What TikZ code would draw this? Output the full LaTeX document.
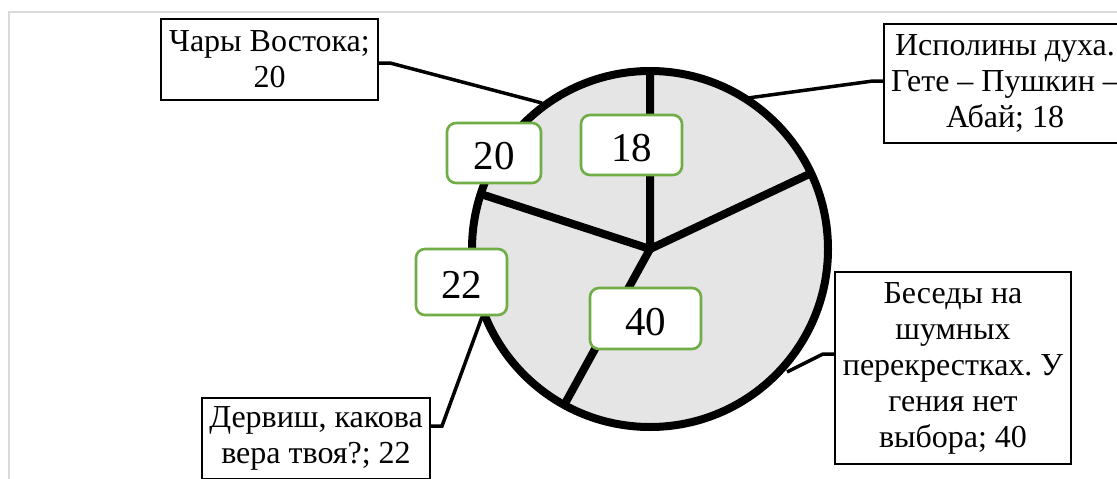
\documentclass[tikz,border=0pt]{standalone}
\usepackage{fontspec}
\setmainfont{Liberation Serif}
\usetikzlibrary{calc}
\definecolor{framegray}{HTML}{D9D9D9}
\definecolor{piegray}{HTML}{E5E5E5}
\definecolor{lblgreen}{HTML}{70AD47}
\frenchspacing
\begin{document}
\begin{tikzpicture}[x=1pt,y=-1pt,
 catbox/.style={draw=black,line width=1.8pt,fill=white,align=center,inner sep=0pt,font=\fontsize{32}{36}\selectfont},
 numbox/.style={draw=lblgreen,line width=2.6pt,fill=white,rounded corners=9pt,inner sep=0pt,text height=33pt,text depth=0pt,font=\fontsize{41}{44}\selectfont},
 leader/.style={line width=3.5pt,line join=miter},
 spoke/.style={line width=8pt},
 rim/.style={line width=8pt},
]
\useasboundingbox (0,0) rectangle (1117,479);
\clip (0,0) rectangle (1117,479);
\fill[white] (0,0) rectangle (1117,479);
\draw[framegray,line width=2pt] (9,12) rectangle (1140,500);

% category boxes
\node[catbox,minimum width=217pt,minimum height=81pt] (chary) at (269.5,59.5) {Чары Востока;\\20};
\node[catbox,minimum width=242pt,minimum height=119pt] (ispol) at (1005,83.5) {Исполины духа.\\Гете – Пушкин –\\Абай; 18};
\node[catbox,minimum width=236pt,minimum height=192pt] (besedy) at (953,368) {Беседы на\\шумных\\перекрестках. У\\гения нет\\выбора; 40};
\node[catbox,minimum width=228pt,minimum height=81pt] (dervish) at (316,438.5) {Дервиш, какова\\вера твоя?; 22};

% pie geometry
\coordinate (c) at (650,249);
\coordinate (s1) at (650,71);
\coordinate (s2) at (811.1,173.2);
\coordinate (s3) at (564.2,405);
\coordinate (s4) at (480.7,194);

% leader points
\coordinate (e1) at (542,103);
\coordinate (b1) at (390,63);
\coordinate (e2) at (748,98);
\coordinate (b2) at (873,81);
\coordinate (e3) at (787,372);
\coordinate (b3) at (823,354);
\coordinate (e4) at (482,317);
\coordinate (b4) at (442,426);

\draw[leader] ($(chary.east)+(0,3.5)$) -- (b1) -- (e1);
\draw[leader] ($(ispol.west)+(0,-2.5)$) -- (b2) -- (e2);
\draw[leader] ($(besedy.west)+(0,-14)$) -- (b3) -- (e3);
\draw[leader] ($(dervish.east)+(0,-12.5)$) -- (b4) -- (e4);

% pie
\fill[piegray] (c) circle[radius=178];
\draw[spoke] (s1) -- (c) -- (s2);
\draw[spoke] (s4) -- (c) -- (s3);
\draw[rim] (c) circle[radius=178];

% value labels
\node[numbox,minimum width=101pt,minimum height=60pt] (n18) at (631.5,145) {18};
\node[numbox,minimum width=94pt,minimum height=60pt] (n20) at (494,153) {20};
\node[numbox,minimum width=91pt,minimum height=66pt] (n22) at (461.5,282) {22};
\node[numbox,minimum width=111pt,minimum height=61pt] (n40) at (645.5,318.5) {40};
\end{tikzpicture}
\end{document}
